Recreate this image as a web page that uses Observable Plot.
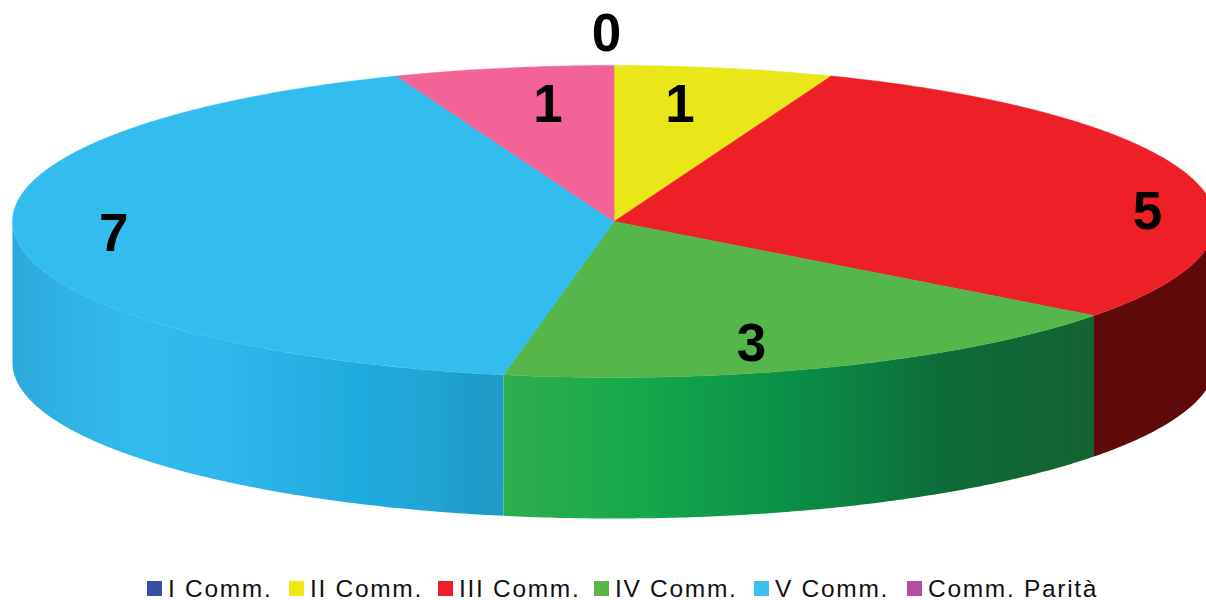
<!DOCTYPE html>
<html lang="it">
<head>
<meta charset="utf-8">
<script src="https://cdn.jsdelivr.net/npm/d3@7"></script>
<script src="https://cdn.jsdelivr.net/npm/@observablehq/plot@0.6"></script>
<style>
html,body{margin:0;padding:0;background:#fff;overflow:hidden}
#chart svg{display:block}
#legend{height:35px;position:relative;font:24.5px "Liberation Sans",Arial,sans-serif;letter-spacing:1.7px;color:#111}
#legend div{position:absolute;top:6px;display:flex;align-items:center;white-space:nowrap;height:35px}
#legend i{display:block;width:15px;height:15px;margin-right:6px}
</style>
</head>
<body>
<div id="chart"></div>
<div id="legend"></div>
<script>
// Data
const categories = ["I Comm.", "II Comm.", "III Comm.", "IV Comm.", "V Comm.", "Comm. Parità"];
const seats = [0, 1, 5, 3, 7, 1];
const topColors = ["#35509f", "#e9e719", "#ee2027", "#55b64b", "#33bcee", "#f26398"];
const legendColors = ["#35509f", "#f2e816", "#ee2027", "#5ab546", "#3bbff0", "#b44f9f"];
const legendLeft = [147, 289, 438, 594, 754, 907];
// label placement: share of the radius, and turn (degrees) away from the slice's middle
const labelRadius = [1.2, 0.752, 0.889, 0.815, 0.836, 0.752];
const labelTurn = [-0.6, -2.2, 11.8, 4.9, -0.4, 2.2];
// shading of the rim, by horizontal position
const rimStopX = {
  "IV Comm.": [503, 627, 787, 947, 1095],
  "V Comm.": [12, 50, 133, 233, 367, 433, 467, 503],
  "III Comm.": [1095, 1214]
};
const rimStopColor = {
  "IV Comm.": ["#2fae4e", "#17a94b", "#0a9048", "#0e6b3a", "#146232"],
  "V Comm.": ["#2ba9da", "#2fb0e2", "#33bbee", "#2fb6ea", "#1eaadc", "#22a4d2", "#1c9dcb", "#229ac6"],
  "III Comm.": ["#5e0a0b", "#5e0a0b"]
};

// Geometry of the tilted disc
const W = 1206, H = 565;
const cx = 613.5, cy = 221, rx = 601.5, ry = 156, depth = 141;
const rad = d => d * Math.PI / 180;
const px = (deg, f = 1) => cx + rx * f * Math.sin(rad(deg));
const py = (deg, f = 1) => cy - ry * f * Math.cos(rad(deg));

const total = d3.sum(seats);
let acc = 0;
const slices = categories.map((name, i) => {
  const start = acc / total * 360;
  acc += seats[i];
  return {name, value: seats[i], start, end: acc / total * 360, color: topColors[i], i};
});

// Top faces
const topPts = [];
for (const s of slices) {
  if (!s.value) continue;
  topPts.push({x: cx, y: cy, k: s.name, c: s.color});
  const n = Math.ceil(s.end - s.start) * 2;
  for (let j = 0; j <= n; j++) {
    const a = s.start + (s.end - s.start) * j / n;
    topPts.push({x: px(a), y: py(a), k: s.name, c: s.color});
  }
  topPts.push({x: cx, y: cy, k: s.name, c: s.color});
}

// Rim: one outline per slice over the front half, filled with a horizontal gradient
const rimMarks = [];
const gradients = [];
for (const s of slices) {
  const from = Math.max(s.start, 90), to = Math.min(s.end, 270);
  if (!s.value || from >= to) continue;
  const n = Math.ceil(to - from) * 2;
  const arc = d3.range(n + 1).map(j => from + (to - from) * j / n);
  const pts = [
    ...arc.map(a => ({x: px(a), y: py(a)})),
    ...arc.slice().reverse().map(a => ({x: px(a), y: py(a) + depth}))
  ];
  pts.push(pts[0]);
  const id = "rim" + s.i;
  gradients.push({id, xs: rimStopX[s.name], cs: rimStopColor[s.name]});
  rimMarks.push(Plot.line(pts, {x: "x", y: "y", fill: `url(#${id})`, stroke: "none", curve: "linear"}));
}

// Gradient definitions, placed through the chart's own x scale
const gradientDefs = (index, {x}) => {
  const svgNS = "http://www.w3.org/2000/svg";
  const defs = document.createElementNS(svgNS, "defs");
  for (const g of gradients) {
    const lg = document.createElementNS(svgNS, "linearGradient");
    lg.setAttribute("id", g.id);
    lg.setAttribute("gradientUnits", "userSpaceOnUse");
    lg.setAttribute("x1", x(g.xs[0]));
    lg.setAttribute("x2", x(g.xs[g.xs.length - 1]));
    lg.setAttribute("y1", 0);
    lg.setAttribute("y2", 0);
    const span = g.xs[g.xs.length - 1] - g.xs[0];
    g.xs.forEach((v, j) => {
      const st = document.createElementNS(svgNS, "stop");
      st.setAttribute("offset", (v - g.xs[0]) / span);
      st.setAttribute("stop-color", g.cs[j]);
      lg.append(st);
    });
    defs.append(lg);
  }
  return defs;
};

// Value labels
const labels = slices.map(s => {
  const a = (s.start + s.end) / 2 + labelTurn[s.i];
  return {x: px(a, labelRadius[s.i]), y: py(a, labelRadius[s.i]), v: String(s.value)};
});

const chart = Plot.plot({
  width: W, height: H,
  margin: 0,
  x: {domain: [0, W], range: [0, W], axis: null},
  y: {domain: [0, H], range: [0, H], axis: null},
  color: {type: "identity"},
  marks: [
    gradientDefs,
    ...rimMarks,
    Plot.line(topPts, {x: "x", y: "y", z: "k", fill: "c", stroke: "c", strokeWidth: 0.5, curve: "linear"}),
    Plot.text(labels, {
      x: "x", y: "y", text: "v", fill: "#000",
      fontSize: 53, fontWeight: "bold", fontFamily: "Liberation Sans, Arial, sans-serif",
      textAnchor: "middle", lineAnchor: "middle"
    })
  ]
});
document.getElementById("chart").append(chart);

const legend = document.getElementById("legend");
categories.forEach((name, i) => {
  const el = document.createElement("div");
  el.style.left = legendLeft[i] + "px";
  const sw = document.createElement("i");
  sw.style.background = legendColors[i];
  el.append(sw, name);
  legend.append(el);
});
</script>
</body>
</html>
